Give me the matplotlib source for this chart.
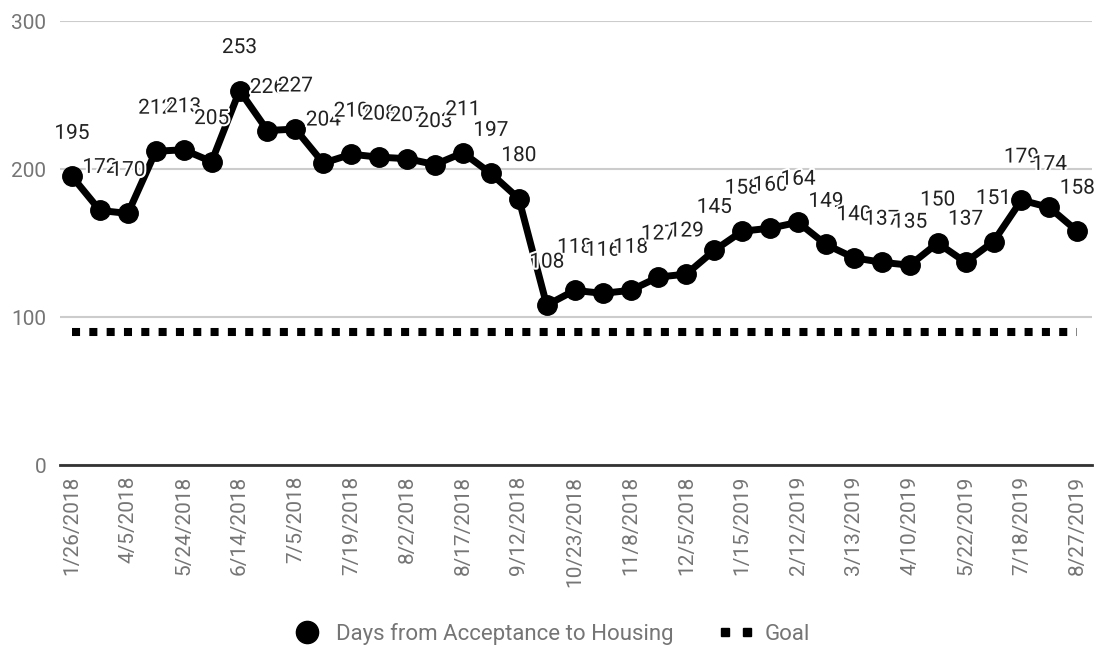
import matplotlib
matplotlib.use("Agg")
import matplotlib.pyplot as plt
import matplotlib.patheffects as pe
from matplotlib.lines import Line2D
from matplotlib.legend_handler import HandlerLine2D

plt.rcParams['font.family'] = ['Roboto', 'DejaVu Sans']

days = [195, 172, 170, 212, 213, 205, 253, 226, 227, 204, 210, 208, 207, 203,
        211, 197, 180, 108, 118, 116, 118, 127, 129, 145, 158, 160, 164, 149,
        140, 137, 135, 150, 137, 151, 179, 174, 158]
goal_value = 90
tick_labels = ["1/26/2018", "4/5/2018", "5/24/2018", "6/14/2018", "7/5/2018",
               "7/19/2018", "8/2/2018", "8/17/2018", "9/12/2018", "10/23/2018",
               "11/8/2018", "12/5/2018", "1/15/2019", "2/12/2019", "3/13/2019",
               "4/10/2019", "5/22/2019", "7/18/2019", "8/27/2019"]
y_ticks = [0, 100, 200, 300]

x = list(range(len(days)))
goal = [goal_value] * len(days)

fig = plt.figure(figsize=(11.11, 6.49), dpi=100)
ax = fig.add_axes([0.054, 0.2835, 0.929, 0.6841])

grey_txt = '#757575'

ax.plot(x, goal, color='black', linewidth=5.8, dashes=(1, 1.15),
        solid_capstyle='butt', dash_capstyle='butt', zorder=3)
ax.plot(x, days, color='black', linewidth=5, marker='o', markersize=14,
        solid_joinstyle='round', zorder=4)

for xi, v in zip(x, days):
    ax.annotate(str(v), (xi, v), xytext=(0, 31), textcoords='offset points',
                ha='center', va='center', fontsize=15, color='#222222',
                path_effects=[pe.withStroke(linewidth=3, foreground='white')],
                zorder=5)

ax.set_xlim(-0.43, 36.53)
ax.set_ylim(0, 300)
ax.set_yticks(y_ticks)
ax.set_yticklabels([str(t) for t in y_ticks])
ax.set_xticks(x[::2])
ax.set_xticklabels(tick_labels, rotation=90, va='top', ha='center')
ax.tick_params(axis='both', length=0, labelsize=15, labelcolor=grey_txt)
ax.tick_params(axis='y', pad=10)
ax.tick_params(axis='x', pad=8)

ax.grid(axis='y', color='#cccccc', linewidth=1.5, zorder=0)
ax.set_axisbelow(True)
for s in ['top', 'right', 'left']:
    ax.spines[s].set_visible(False)
ax.spines['bottom'].set_color('#333333')
ax.spines['bottom'].set_linewidth(2)
ax.spines['bottom'].set_zorder(2)

h_days = Line2D([], [], color='black', marker='o', markersize=16, linestyle='none')
h_goal = Line2D([], [], color='black', marker='s', markersize=5.5, linestyle='none')
leg = fig.legend([h_days, h_goal], ['Days from Acceptance to Housing', 'Goal'],
                 loc='center', bbox_to_anchor=(0.497, 0.023), ncol=2, frameon=False,
                 fontsize=16, handlelength=1.2, columnspacing=2.2, handletextpad=0.7,
                 handler_map={h_days: HandlerLine2D(numpoints=1),
                              h_goal: HandlerLine2D(numpoints=2, marker_pad=0.1)})
for t in leg.get_texts():
    t.set_color(grey_txt)

fig.savefig('out.png', dpi=100)
